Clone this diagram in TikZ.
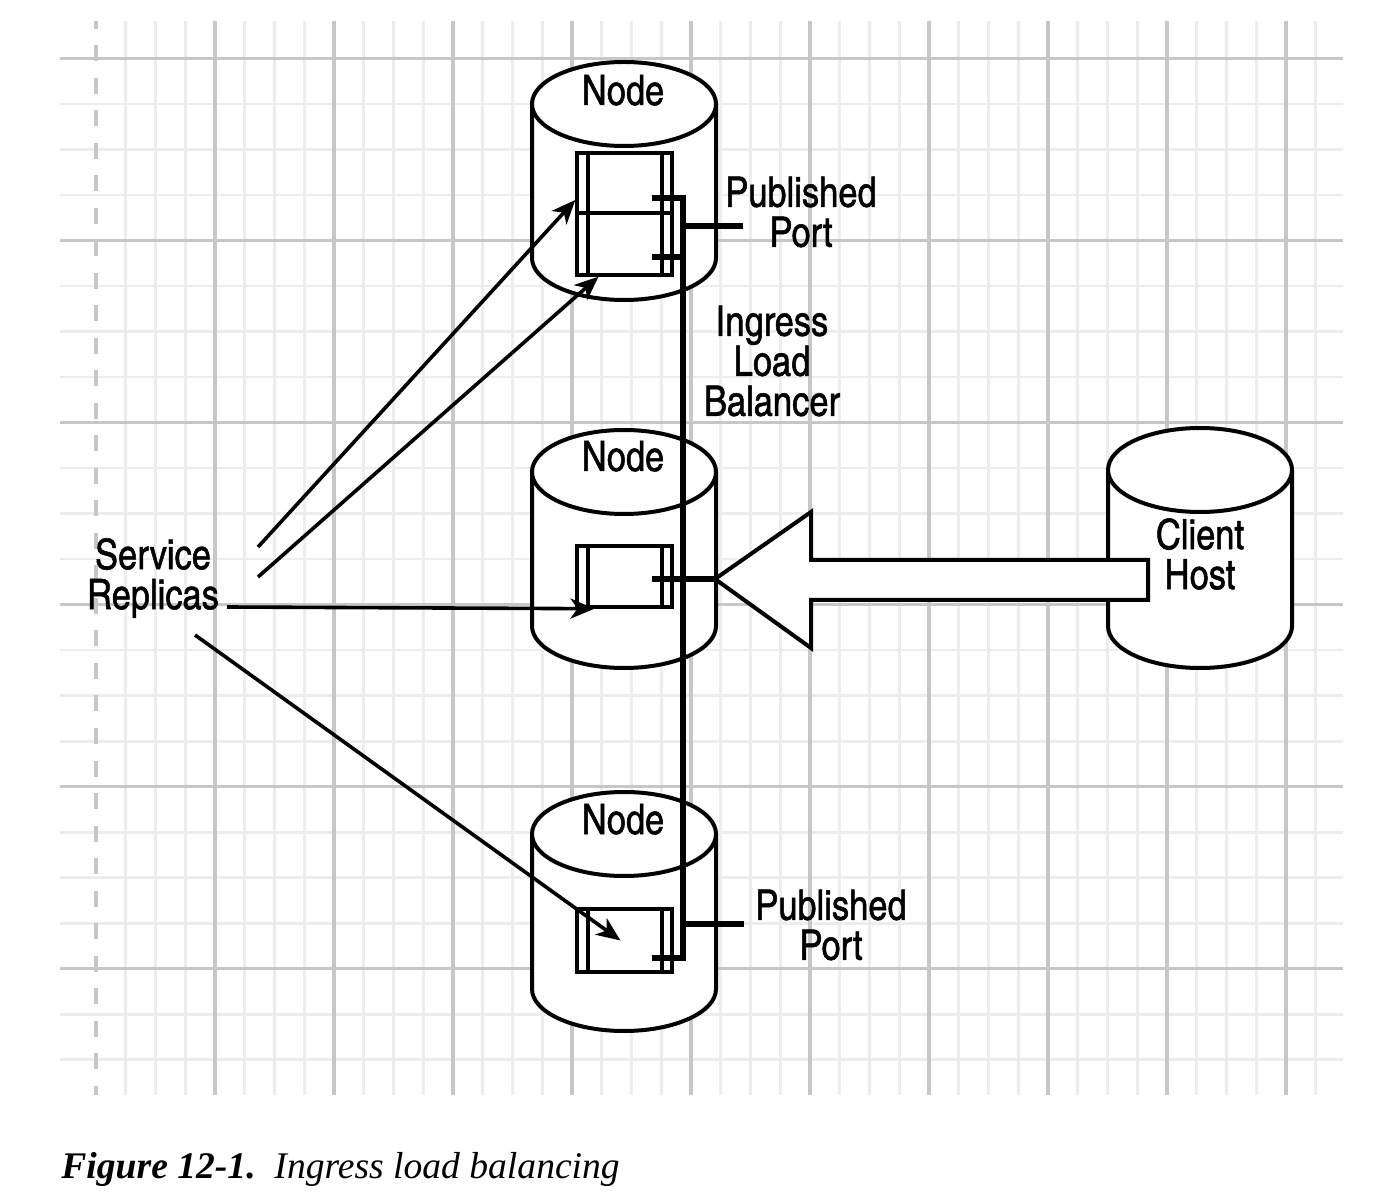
\documentclass[tikz,border=0pt]{standalone}
\usepackage{fontspec}
\setmainfont{Liberation Serif}
\newfontfamily\labelfont[FakeBold=1.2]{TeX Gyre Heros Cn}
\usetikzlibrary{arrows.meta}

\definecolor{gridmajor}{gray}{0.78}
\definecolor{gridminor}{gray}{0.93}

\begin{document}
\begin{tikzpicture}[x=0.5pt, y=-0.5pt,
    minorline/.style={gridminor, line width=1.3pt},
    majorline/.style={gridmajor, line width=1.6pt},
    tag/.style={font=\labelfont\fontsize{21}{20}\selectfont, align=center, inner sep=0pt},
    outline/.style={line width=2pt, fill=white},
    replica/.style={draw, line width=1.7pt, fill=white, minimum width=47.5pt, inner sep=0pt,
        path picture={\draw[line width=1.7pt]
            ([xshift=5.5pt]path picture bounding box.north west) -- ([xshift=5.5pt]path picture bounding box.south west)
            ([xshift=-5pt]path picture bounding box.north east) -- ([xshift=-5pt]path picture bounding box.south east);}},
    bus/.style={line width=2.7pt},
    feed/.style={line width=1.8pt, -{Stealth[length=12pt, width=10pt, inset=3.5pt]}}]

    \useasboundingbox (0,0) rectangle (1386,1202);

    % grid
    \foreach \k in {1,...,41}
        \draw [minorline] (96+29.75*\k,21) -- (96+29.75*\k,1095);
    \foreach \j in {1,...,22}
        \draw [minorline] (60,58.7+45.5*\j) -- (1343,58.7+45.5*\j);
    \foreach \k in {1,...,10}
        \draw [majorline] (96+119*\k,21) -- (96+119*\k,1095);
    \foreach \j in {0,...,5}
        \draw [majorline] (60,58.7+182*\j) -- (1343,58.7+182*\j);
    \draw [majorline, dash pattern=on 8pt off 8.25pt, dash phase=4pt] (96,21) -- (96,1095);

    % hosts
    \foreach \cx/\cy/\len in {624/104/154, 624/472/154, 624/834/155, 1200/470/156} {
        \draw [outline] (\cx-92,\cy) -- (\cx-92,\cy+\len)
                        arc [start angle=180, end angle=0, x radius=92, y radius=42] -- (\cx+92,\cy);
        \draw [outline] (\cx,\cy) ellipse [x radius=92, y radius=42];
    }

    % request from the client
    \coordinate (ingress tip) at (715,579);
    \draw [outline] (ingress tip) -- (811,512) -- (811,560) -- (1148,560)
                    -- (1148,600) -- (811,600) -- (811,648) -- cycle;

    % replicas
    \node [replica, minimum height=30pt]   (r1a) at (624.5,183)   {};
    \node [replica, minimum height=31pt]   (r1b) at (624.5,244)   {};
    \node [replica, minimum height=30.5pt] (r2)  at (624.5,576.5) {};
    \node [replica, minimum height=31.5pt] (r3)  at (624.5,940.5) {};

    % ingress network
    \coordinate (s1) at (652,198);
    \coordinate (s2) at (652,257);
    \coordinate (s3) at (652,579);
    \coordinate (s4) at (652,958);
    \coordinate (bus top) at (683,198);
    \coordinate (bus bottom) at (683,958);
    \coordinate (port1) at (743,226);
    \coordinate (port2) at (744,924);

    \draw [bus] (s1) -- (bus top) -- (bus bottom) -- (s4);
    \draw [bus] (s2) -- (s2 -| bus top);
    \draw [bus] (s3) -- (ingress tip);
    \draw [bus] (port1 -| bus top) -- (port1)
                (port2 -| bus top) -- (port2);

    % labels
    \node [tag, anchor=base] (node1) at (623,105) {Node};
    \node [tag, anchor=base] (node2) at (623,471) {Node};
    \node [tag, anchor=base] (node3) at (623,834) {Node};
    \node [tag] (client)   at (1200,554) {Client\\Host};
    \node [tag] (pub1)     at (801,212)  {Published\\Port};
    \node [tag] (pub2)     at (831,925)  {Published\\Port};
    \node [tag] (ingress)  at (772,361)  {Ingress\\Load\\Balancer};
    \node [tag] (replicas) at (153,578)  {Service\\Replicas};

    % scheduling of the replicas
    \coordinate (fan1) at (258,547);
    \coordinate (fan2) at (258,577);
    \coordinate (fan3) at (227,607);
    \coordinate (fan4) at (195,635);

    \draw [feed] (fan1) -- ([yshift=-8.5pt]r1a.west);
    \draw [feed] (fan2) -- ([xshift=-13pt]r1b.south);
    \draw [feed] (fan3) -- ([xshift=-15pt]r2.south);
    \draw [feed] (fan4) -- ([xshift=-2pt]r3.center);

    \node [anchor=base west, inner sep=0pt, font=\fontsize{18.8}{22}\selectfont] (caption) at (61,1178)
        {\textbf{\textit{Figure 12-1.}}\hspace{0.5em}\textit{Ingress load balancing}};
\end{tikzpicture}
\end{document}
